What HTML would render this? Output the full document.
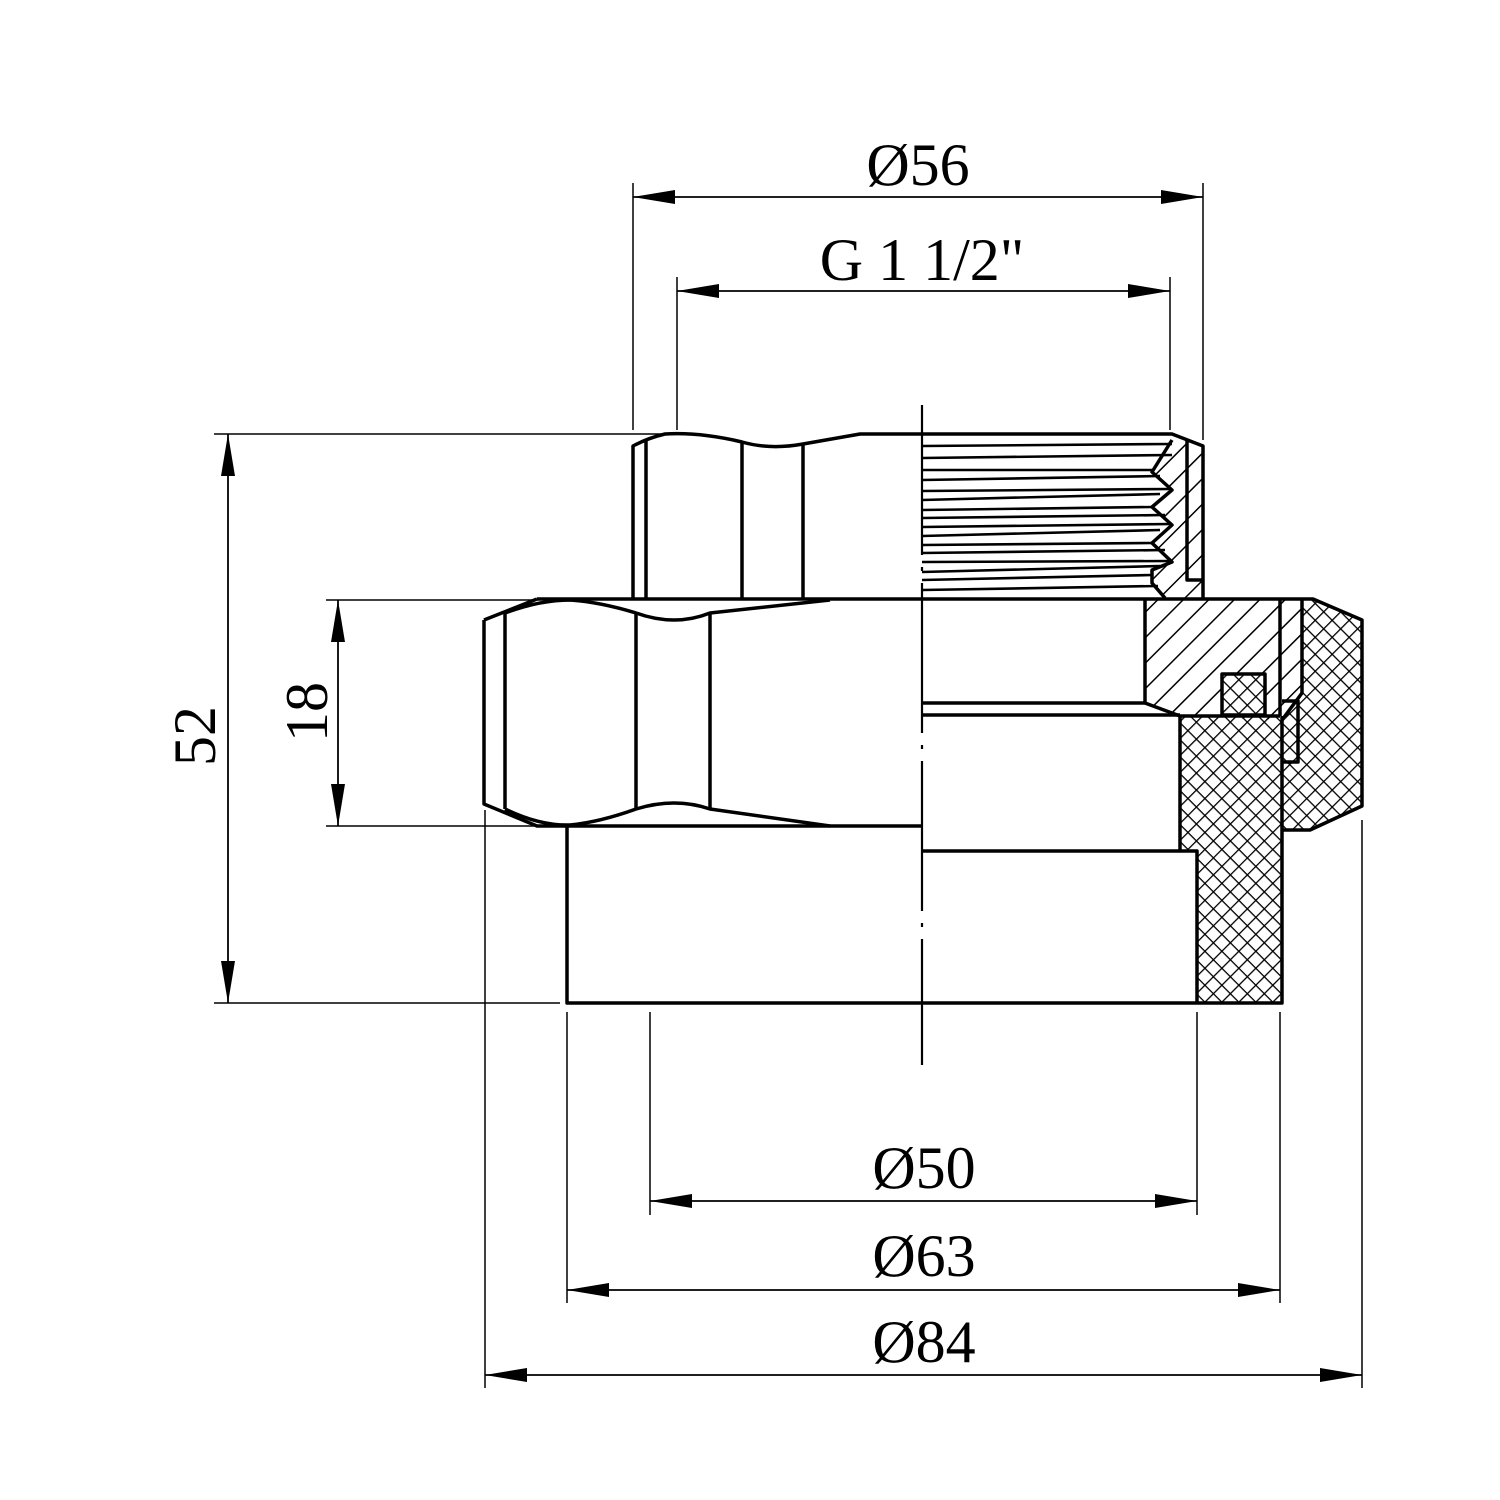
<!DOCTYPE html>
<html><head><meta charset="utf-8"><style>html,body{margin:0;padding:0;background:#fff}svg{display:block}</style></head>
<body>
<svg width="1500" height="1500" viewBox="0 0 1500 1500" xmlns="http://www.w3.org/2000/svg">
<defs>
<pattern id="h1" patternUnits="userSpaceOnUse" width="18" height="18" patternTransform="rotate(45)">
<line x1="0" y1="0" x2="0" y2="18" stroke="#000" stroke-width="3"/></pattern>
<pattern id="h2" patternUnits="userSpaceOnUse" width="12" height="12" patternTransform="rotate(45)">
<line x1="0" y1="0" x2="0" y2="12" stroke="#000" stroke-width="2.6"/><line x1="0" y1="0" x2="12" y2="0" stroke="#000" stroke-width="2.6"/></pattern>
<marker id="a" viewBox="0 0 42 14" refX="42" refY="7" markerWidth="42" markerHeight="14" markerUnits="userSpaceOnUse" orient="auto-start-reverse"><path d="M0,0 L42,7 L0,14 Z" fill="#000"/></marker>
</defs>
<rect width="1500" height="1500" fill="#fff"/>

<g stroke="#000" stroke-width="1.5" fill="none">
<line x1="633" y1="183" x2="633" y2="430"/><line x1="1203" y1="183" x2="1203" y2="440"/>
<line x1="677" y1="277" x2="677" y2="430"/><line x1="1170" y1="277" x2="1170" y2="430"/>
<line x1="214" y1="434" x2="665" y2="434"/><line x1="214" y1="1003" x2="560" y2="1003"/>
<line x1="326" y1="600" x2="535" y2="600"/><line x1="326" y1="826" x2="535" y2="826"/>
<line x1="650" y1="1012" x2="650" y2="1215"/><line x1="1197" y1="1012" x2="1197" y2="1215"/>
<line x1="567" y1="1012" x2="567" y2="1303"/><line x1="1280" y1="1012" x2="1280" y2="1303"/>
<line x1="485" y1="810" x2="485" y2="1388"/><line x1="1362" y1="820" x2="1362" y2="1388"/>
</g>
<g stroke="#000" stroke-width="1.8" fill="none">
<line x1="633" y1="197" x2="1203" y2="197" marker-start="url(#a)" marker-end="url(#a)"/>
<line x1="677" y1="291" x2="1170" y2="291" marker-start="url(#a)" marker-end="url(#a)"/>
<line x1="228" y1="434" x2="228" y2="1003" marker-start="url(#a)" marker-end="url(#a)"/>
<line x1="338" y1="600" x2="338" y2="826" marker-start="url(#a)" marker-end="url(#a)"/>
<line x1="650" y1="1201" x2="1197" y2="1201" marker-start="url(#a)" marker-end="url(#a)"/>
<line x1="567" y1="1290" x2="1280" y2="1290" marker-start="url(#a)" marker-end="url(#a)"/>
<line x1="485" y1="1375" x2="1362" y2="1375" marker-start="url(#a)" marker-end="url(#a)"/>
</g>
<g font-family="Liberation Serif, serif" font-size="60" text-anchor="middle" fill="#000">
<text x="918" y="185">Ø56</text>
<text x="922" y="280">G 1 1/2"</text>
<text x="924" y="1188">Ø50</text>
<text x="924" y="1276">Ø63</text>
<text x="924" y="1362">Ø84</text>
<text transform="translate(215,736) rotate(-90)">52</text>
<text transform="translate(327,712) rotate(-90)">18</text>
</g>

<path d="M1172,434 L1203,446 L1203,599 L1313,599 L1302,599 L1302,693 L1282,720 L1180,716 L1145,705 L1145,599 L1165,599 L1152,583 L1152,570 L1172,562 L1152,543 L1172,525 L1152,507 L1172,490 L1152,472 L1172,455 Z" fill="url(#h1)"/>
<path d="M1180,716 L1282,716 L1282,1003 L1197,1003 L1197,851 L1180,851 Z" fill="url(#h2)"/>
<path d="M1302,599 L1313,599 L1362,620 L1362,806 L1310,830 L1282,830 L1282,720 L1302,693 Z" fill="url(#h2)"/>
<rect x="1222" y="674" width="43" height="41" fill="#fff"/>
<rect x="1222" y="674" width="43" height="41" fill="url(#h2)"/>

<g stroke="#000" stroke-width="3.5" fill="none" stroke-linejoin="round">
<path d="M633,599 L633,446 Q648,438 665,434 Q700,432 742,442 Q770,450 803,444 L860,434 L1172,434 L1203,446 L1203,599"/>
<line x1="646" y1="440" x2="646" y2="599"/>
<line x1="742" y1="442" x2="742" y2="599"/>
<line x1="803" y1="444" x2="803" y2="599"/>
<path d="M1187,440 L1187,580 L1203,580"/>
<path d="M1172,440 L1152,472 L1172,490 L1152,507 L1172,525 L1152,543 L1172,562 L1152,570 L1152,583 L1165,598"/>
<path d="M537,599 L1313,599 L1362,620 L1362,806 L1310,830 L1282,830"/>
<path d="M484,620 L537,599 M484,620 L484,804 L537,826 L922,826"/>
<path d="M505,613 Q540,600 570,600 Q600,602 636,613 Q675,627 710,613 L830,600"/>
<path d="M505,809 Q540,826 570,825 Q600,822 636,809 Q675,797 710,809 L830,826"/>
<line x1="505" y1="613" x2="505" y2="809"/>
<line x1="636" y1="613" x2="636" y2="809"/>
<line x1="710" y1="613" x2="710" y2="809"/>
<path d="M922,703 L1145,703 L1145,599"/>
<path d="M1145,703 L1180,716 L1280,716"/>
<line x1="922" y1="715" x2="1180" y2="715"/>
<path d="M1180,716 L1180,851 L922,851"/>
<path d="M1180,851 L1197,851 L1197,1003"/>
<path d="M567,826 L567,1003 L1282,1003 L1282,716"/>
<line x1="1280" y1="599" x2="1280" y2="716"/>
<path d="M1302,599 L1302,693 L1282,720"/>
<rect x="1222" y="674" width="43" height="41"/>
<path d="M1282,701 L1298,701 L1298,762 L1282,762"/>
</g>
<g stroke="#000" stroke-width="2.6" fill="none">
<path d="M922,446 L1172,444"/><path d="M922,458 L1172,455"/>
<path d="M922,470 L1152,470"/><path d="M922,480 L1160,476"/>
<path d="M922,491 L1172,489"/><path d="M922,500 L1160,494"/>
<path d="M922,510 L1152,507"/><path d="M922,518 L1165,515"/>
<path d="M922,527 L1172,524"/><path d="M922,536 L1160,530"/>
<path d="M922,545 L1152,543"/><path d="M922,553 L1165,550"/>
<path d="M922,562 L1172,561"/><path d="M922,572 L1160,566"/>
<path d="M922,580 L1152,575"/><path d="M922,590 L1158,586"/>
</g>
<line x1="922" y1="405" x2="922" y2="1065" stroke="#000" stroke-width="2.2" stroke-dasharray="150,12,4,12"/>
</svg>
</body></html>
